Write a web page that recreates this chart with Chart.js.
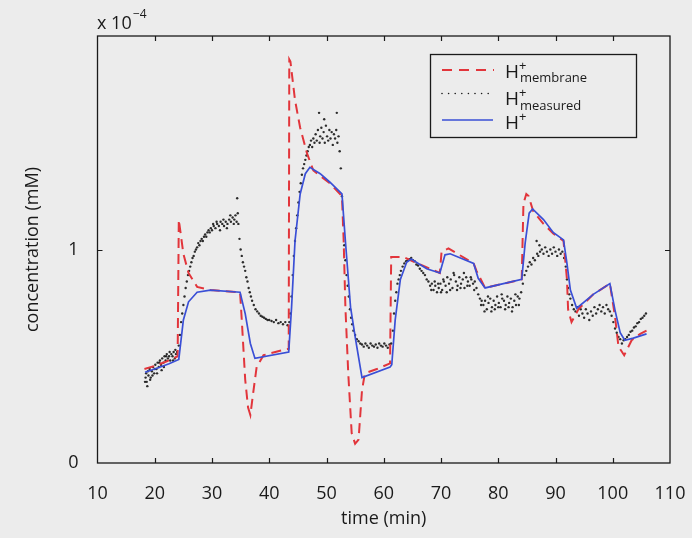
<!DOCTYPE html>
<html>
<head>
<meta charset="utf-8">
<script src="https://cdn.jsdelivr.net/npm/chart.js@4.4.1/dist/chart.umd.min.js"></script>
<style>
  html, body { margin: 0; padding: 0; background: #ececec; }
  #wrap { width: 692px; height: 538px; position: relative; }
</style>
</head>
<body>
<div id="wrap"><canvas id="c"></canvas></div>
<script>
// ---- data (values in units of 1e-4 mM, time in min) ----
const xTicks = [10, 20, 30, 40, 50, 60, 70, 80, 90, 100, 110];
const yTicks = [0, 1, 2];

// H+ membrane (red dashed)
const membrane = [
  [18.2,0.44],[20,0.455],[22,0.475],[24.0,0.50],[24.2,1.14],[25.0,0.98],[25.9,0.89],
  [27.4,0.825],[29.7,0.81],[34.9,0.80],[35.2,0.67],[35.8,0.39],[36.3,0.26],[36.7,0.225],
  [37.2,0.33],[37.8,0.45],[39.0,0.505],[42.5,0.53],[43.4,0.535],[43.5,1.89],[43.7,1.88],
  [44.5,1.70],[45.4,1.57],[46.6,1.45],[47.7,1.37],[50.6,1.31],[52.7,1.25],[53.0,1.04],
  [53.3,0.73],[53.8,0.42],[54.4,0.14],[55.0,0.09],[55.6,0.11],[56.2,0.34],[56.7,0.42],
  [58.8,0.44],[61.1,0.467],[61.3,0.965],[63.4,0.965],[65.5,0.94],[69.8,0.89],[70.1,0.99],
  [71.3,1.005],[75.7,0.935],[76.2,0.90],[77.7,0.82],[84.1,0.86],[84.4,1.215],[84.9,1.26],
  [85.3,1.25],[86.1,1.18],[87.9,1.12],[89.6,1.075],[91.4,1.04],[92.0,0.86],[92.2,0.72],
  [92.8,0.66],[94.0,0.72],[96.6,0.79],[99.5,0.84],[100.4,0.685],[101.0,0.545],[102.0,0.505],
  [103.3,0.575],[104.8,0.605],[105.9,0.62]
];

// H+ (blue solid)
const hplus = [
  [18.3,0.425],[20.5,0.445],[22.5,0.465],[24.2,0.485],[25.0,0.67],[25.9,0.755],[27.4,0.80],
  [29.7,0.81],[34.9,0.80],[35.8,0.70],[36.7,0.56],[37.5,0.49],[43.4,0.52],[43.9,0.73],
  [44.5,1.04],[45.4,1.26],[46.3,1.355],[47.1,1.385],[48.9,1.355],[50.6,1.315],[52.7,1.26],
  [53.3,1.04],[54.2,0.73],[55.1,0.575],[56.2,0.40],[61.1,0.45],[61.4,0.46],[62.0,0.67],
  [62.9,0.86],[64.0,0.94],[64.8,0.955],[67.5,0.91],[69.8,0.89],[70.7,0.975],[71.6,0.98],
  [75.7,0.935],[76.5,0.865],[77.7,0.82],[84.1,0.86],[84.7,1.03],[85.4,1.17],[86.0,1.19],
  [87.9,1.14],[89.6,1.08],[91.4,1.045],[92.0,0.935],[92.6,0.81],[93.7,0.725],[96.6,0.79],
  [99.5,0.84],[100.4,0.715],[101.3,0.61],[102.1,0.575],[103.6,0.585],[105.9,0.605]
];

// H+ measured (black dots)
const measured = [
  [18.3,0.38],[18.4,0.40],[18.5,0.42],[18.6,0.38],[18.7,0.36],[18.8,0.43],[18.9,0.41],[19.1,0.44],
  [19.2,0.39],[19.3,0.40],[19.5,0.43],[19.6,0.41],[19.7,0.45],[19.9,0.42],[20.0,0.44],[20.1,0.46],
  [20.3,0.44],[20.4,0.42],[20.5,0.47],[20.7,0.45],[20.8,0.47],[20.9,0.48],[21.1,0.46],[21.2,0.435],
  [21.3,0.49],[21.5,0.47],[21.6,0.45],[21.7,0.50],[21.9,0.48],[22.0,0.50],[22.1,0.51],[22.3,0.49],
  [22.5,0.50],[22.6,0.52],[22.7,0.48],[22.9,0.51],[23.1,0.50],[23.2,0.48],[23.3,0.52],[23.5,0.49],
  [23.6,0.53],[23.7,0.51],[23.9,0.52],
  [24.2,0.55],[24.4,0.60],[24.6,0.66],[24.8,0.70],[25.0,0.74],[25.2,0.78],[25.4,0.82],[25.6,0.85],
  [25.8,0.88],[26.0,0.90],[26.2,0.92],[26.4,0.94],[26.6,0.96],[26.8,0.97],[27.0,0.99],[27.2,1.00],
  [27.4,1.01],[27.6,1.03],[27.8,1.02],[28.0,1.04],[28.2,1.05],[28.4,1.04],[28.6,1.06],[28.8,1.07],
  [29.0,1.06],[29.2,1.08],[29.4,1.09],[29.6,1.08],[29.8,1.10],
  [30.0,1.09],[30.2,1.12],[30.3,1.11],[30.6,1.10],[30.8,1.13],[30.9,1.12],[31.2,1.11],[31.4,1.09],
  [31.5,1.13],[31.8,1.12],[32.0,1.14],[32.1,1.11],[32.4,1.13],[32.6,1.10],[32.7,1.12],[33.0,1.14],
  [33.2,1.16],[33.3,1.13],[33.6,1.15],[33.8,1.12],[33.9,1.14],[34.1,1.16],[34.3,1.13],
  [34.4,1.24],[34.5,1.17],[34.6,1.12],
  [34.8,1.05],[35.0,1.00],[35.2,0.97],[35.4,0.94],[35.6,0.92],[35.8,0.90],[36.0,0.87],[36.2,0.85],
  [36.4,0.82],[36.6,0.80],[36.8,0.78],[37.0,0.76],[37.3,0.74],[37.6,0.72],[37.9,0.71],[38.2,0.70],
  [38.5,0.69],[38.8,0.685],[39.1,0.68],[39.4,0.675],[39.7,0.67],[40.0,0.67],[40.4,0.665],[40.8,0.66],
  [41.2,0.67],[41.6,0.655],[42.0,0.66],[42.4,0.65],[42.8,0.66],[43.2,0.645],[43.5,0.66],
  [43.7,0.70],[43.9,0.78],[44.1,0.88],[44.3,0.97],[44.5,1.04],[44.7,1.10],[44.9,1.16],[45.1,1.22],
  [45.3,1.27],[45.5,1.31],[45.7,1.35],[45.9,1.38],[46.1,1.40],[46.3,1.42],[46.5,1.44],[46.7,1.46],
  [46.9,1.48],[47.1,1.49],[47.3,1.51],[47.5,1.48],[47.7,1.52],[47.9,1.50],[48.1,1.54],[48.3,1.51],
  [48.5,1.56],[48.7,1.64],[48.8,1.50],[48.9,1.53],[49.1,1.57],[49.3,1.52],[49.5,1.55],[49.6,1.61],
  [49.7,1.50],[49.9,1.58],[50.1,1.53],[50.3,1.51],[50.5,1.56],[50.7,1.52],[50.9,1.55],[51.1,1.49],
  [51.3,1.54],[51.5,1.52],[51.7,1.56],[51.8,1.64],[51.9,1.50],[52.1,1.53],[52.3,1.46],
  [52.5,1.38],[52.7,1.25],[52.9,1.12],[53.1,1.02],[53.3,0.95],[53.5,0.88],[53.7,0.83],[53.9,0.78],
  [54.1,0.72],[54.3,0.68],[54.5,0.65],[54.7,0.62],[55.0,0.60],[55.3,0.58],[55.6,0.57],[55.9,0.56],
  [56.2,0.555],[56.5,0.545],[56.8,0.56],[57.1,0.55],[57.4,0.54],[57.7,0.56],[58.0,0.55],[58.3,0.545],
  [58.6,0.555],[58.9,0.54],[59.2,0.56],[59.5,0.55],[59.8,0.545],[60.1,0.56],[60.4,0.55],[60.7,0.54],
  [61.0,0.555],[61.3,0.56],
  [61.6,0.62],[61.8,0.70],[62.0,0.76],[62.2,0.80],[62.4,0.84],[62.6,0.86],[62.8,0.88],[63.0,0.90],
  [63.3,0.92],[63.6,0.935],[63.9,0.945],[64.2,0.95],[64.5,0.955],[64.8,0.96],[65.1,0.95],[65.4,0.945],
  [65.7,0.93],[66.0,0.925],[66.3,0.91],[66.6,0.90],[66.9,0.89],[67.2,0.88],[67.5,0.86],[67.8,0.85],
  [68.1,0.83],[68.3,0.81],[68.4,0.84],[68.7,0.81],[68.9,0.85],[69.0,0.83],[69.3,0.80],[69.5,0.84],
  [69.6,0.82],[69.9,0.84],[70.0,0.80],[70.2,0.81],[70.4,0.86],[70.5,0.85],[70.8,0.83],[71.0,0.80],
  [71.1,0.87],[71.4,0.84],[71.6,0.81],[71.7,0.86],[72.0,0.82],[72.2,0.89],[72.3,0.88],[72.6,0.85],
  [72.8,0.81],[72.9,0.83],[73.2,0.87],[73.4,0.82],[73.5,0.84],[73.8,0.86],[74.0,0.89],[74.1,0.82],
  [74.4,0.87],[74.6,0.83],[74.7,0.85],[75.0,0.83],[75.2,0.87],[75.3,0.86],[75.6,0.84],[75.8,0.81],
  [75.9,0.85],[76.2,0.82],[76.5,0.79],
  [76.8,0.77],[77.0,0.74],[77.1,0.76],[77.4,0.74],[77.6,0.71],[77.7,0.76],[78.0,0.72],[78.2,0.78],
  [78.3,0.75],[78.6,0.77],[78.8,0.71],[78.9,0.73],[79.2,0.76],[79.4,0.72],[79.5,0.74],[79.8,0.78],
  [80.0,0.73],[80.1,0.75],[80.4,0.73],[80.6,0.79],[80.7,0.77],[81.0,0.76],[81.2,0.72],[81.3,0.74],
  [81.6,0.78],[81.8,0.73],[81.9,0.75],[82.2,0.77],[82.4,0.71],[82.5,0.73],[82.8,0.76],[83.0,0.79],
  [83.1,0.74],[83.4,0.78],[83.6,0.74],[83.7,0.77],
  [84.0,0.80],[84.3,0.84],[84.6,0.88],[84.9,0.90],[85.2,0.92],[85.5,0.94],[85.8,0.93],[86.1,0.96],
  [86.4,0.95],[86.7,1.04],[86.8,0.98],[87.0,0.97],[87.2,1.02],[87.3,0.99],[87.6,1.00],[87.9,0.98],
  [88.2,1.01],[88.5,0.99],[88.8,0.97],[89.1,1.00],[89.4,0.98],[89.7,1.01],[90.0,0.99],[90.3,0.97],
  [90.6,1.00],[90.9,0.98],[91.2,0.99],[91.5,0.96],
  [91.8,0.92],[92.0,0.86],[92.2,0.82],[92.4,0.79],[92.6,0.77],[92.9,0.74],[93.2,0.72],[93.5,0.71],
  [93.8,0.73],[94.1,0.69],[94.4,0.72],[94.7,0.70],[95.0,0.68],[95.3,0.72],[95.6,0.70],[95.9,0.67],
  [96.2,0.71],[96.5,0.69],[96.8,0.73],[97.1,0.70],[97.4,0.72],[97.7,0.74],[98.0,0.71],[98.3,0.73],
  [98.6,0.70],[98.9,0.74],[99.2,0.72],[99.5,0.71],[99.8,0.69],
  [100.1,0.66],[100.4,0.63],[100.7,0.61],[101.0,0.59],[101.3,0.58],[101.6,0.56],[101.9,0.575],
  [102.2,0.58],[102.5,0.59],[102.8,0.60],[103.1,0.615],[103.4,0.62],[103.7,0.635],[104.0,0.64],
  [104.3,0.655],[104.6,0.66],[104.9,0.675],[105.2,0.68],[105.5,0.69],[105.8,0.70]
];

const RED = "#e2353b";
const BLUE = "#3a4fd6";
const INK = "#1a1a1a";
const BG = "#ececec";
const FONT = "'Open Sans', 'DejaVu Sans', sans-serif";

const toXY = arr => arr.map(([x, y]) => ({ x, y }));

// background, frame, inner ticks, legend, exponent label
const decorations = {
  id: "decorations",
  beforeDraw(chart) {
    const c = chart.ctx;
    c.save();
    c.fillStyle = BG;
    c.fillRect(0, 0, chart.width, chart.height);
    c.restore();
  },
  afterDraw(chart) {
    const c = chart.ctx;
    const a = chart.chartArea;
    const sx = chart.scales.x, sy = chart.scales.y;
    c.save();
    c.strokeStyle = INK;
    c.lineWidth = 1.3;
    c.strokeRect(a.left, a.top, a.right - a.left, a.bottom - a.top);

    // inward ticks
    c.lineWidth = 1.2;
    c.beginPath();
    xTicks.slice(1, -1).forEach(v => {
      const px = Math.round(sx.getPixelForValue(v)) + 0.5;
      c.moveTo(px, a.bottom); c.lineTo(px, a.bottom - 5);
      c.moveTo(px, a.top); c.lineTo(px, a.top + 5);
    });
    yTicks.slice(1, -1).forEach(v => {
      const py = Math.round(sy.getPixelForValue(v)) + 0.5;
      c.moveTo(a.left, py); c.lineTo(a.left + 5, py);
      c.moveTo(a.right, py); c.lineTo(a.right - 5, py);
    });
    c.stroke();

    // exponent
    c.fillStyle = INK;
    c.textBaseline = "alphabetic";
    c.font = "18px " + FONT;
    c.fillText("x 10", 97, 29);
    c.font = "12px " + FONT;
    c.fillText("\u22124", 133, 18);

    // legend box
    const L = 430.5, T = 54.5, R = 636.5, B = 137.5;
    c.fillStyle = BG;
    c.fillRect(L, T, R - L, B - T);
    c.strokeStyle = INK;
    c.lineWidth = 1.3;
    c.strokeRect(L, T, R - L, B - T);

    // samples
    c.lineWidth = 2;
    c.strokeStyle = RED;
    c.setLineDash([10, 7]);
    c.beginPath(); c.moveTo(442, 70); c.lineTo(494, 70); c.stroke();
    c.setLineDash([]);
    c.fillStyle = INK;
    for (let x = 442; x <= 493; x += 6.6) {
      c.beginPath(); c.arc(x, 93.5, 0.8, 0, Math.PI * 2); c.fill();
    }
    c.strokeStyle = BLUE;
    c.lineWidth = 1.6;
    c.beginPath(); c.moveTo(442, 120); c.lineTo(493, 120); c.stroke();

    // labels
    const rows = [
      { base: 77.5, sub: "membrane" },
      { base: 105, sub: "measured" },
      { base: 128.5, sub: "" }
    ];
    c.fillStyle = INK;
    rows.forEach(r => {
      c.font = "19px " + FONT;
      c.fillText("H", 505, r.base);
      c.font = "13px " + FONT;
      c.fillText("+", 519, r.base - 8);
      if (r.sub) c.fillText(r.sub, 520, r.base + 4.5);
    });
    c.restore();
  }
};

new Chart(document.getElementById("c"), {
  type: "line",
  data: {
    datasets: [
      {
        label: "H+ membrane",
        data: toXY(membrane),
        borderColor: RED,
        borderWidth: 2,
        borderDash: [10, 6],
        pointRadius: 0,
        tension: 0,
        fill: false,
        order: 2
      },
      {
        label: "H+ measured",
        data: toXY(measured),
        showLine: false,
        pointRadius: 1.2,
        pointBorderWidth: 0,
        pointBackgroundColor: "rgba(10,10,10,0.85)",
        order: 3
      },
      {
        label: "H+",
        data: toXY(hplus),
        borderColor: BLUE,
        borderWidth: 1.7,
        pointRadius: 0,
        tension: 0,
        fill: false,
        order: 1
      }
    ]
  },
  options: {
    responsive: true,
    maintainAspectRatio: false,
    animation: false,
    events: [],
    layout: { padding: { top: 36, right: 22, left: 0, bottom: 0 } },
    plugins: {
      legend: { display: false },
      tooltip: { enabled: false }
    },
    scales: {
      x: {
        type: "linear",
        min: 10,
        max: 110,
        afterBuildTicks: s => { s.ticks = xTicks.map(v => ({ value: v })); },
        afterFit: s => { s.height = 75; s.paddingLeft = 0; s.paddingRight = 0; },
        grid: { display: false, drawTicks: false },
        border: { display: false },
        ticks: {
          color: INK,
          padding: 20,
          maxRotation: 0,
          autoSkip: false,
          font: { family: FONT, size: 18 }
        },
        title: {
          display: true,
          text: "time (min)",
          color: INK,
          font: { family: FONT, size: 18 },
          padding: { top: 0, bottom: 8 }
        }
      },
      y: {
        type: "linear",
        min: 0,
        max: 2,
        afterBuildTicks: s => { s.ticks = yTicks.map(v => ({ value: v })); },
        afterFit: s => { s.width = 97.5; s.paddingTop = 0; s.paddingBottom = 0; },
        grid: { display: false, drawTicks: false },
        border: { display: false },
        ticks: {
          color: INK,
          padding: 19,
          font: { family: FONT, size: 18 },
          callback: v => (v === 2 ? "" : v)
        },
        title: {
          display: true,
          text: "concentration (mM)",
          color: INK,
          font: { family: FONT, size: 18 },
          padding: { top: 22, bottom: 0 }
        }
      }
    }
  },
  plugins: [decorations]
});
</script>
</body>
</html>
